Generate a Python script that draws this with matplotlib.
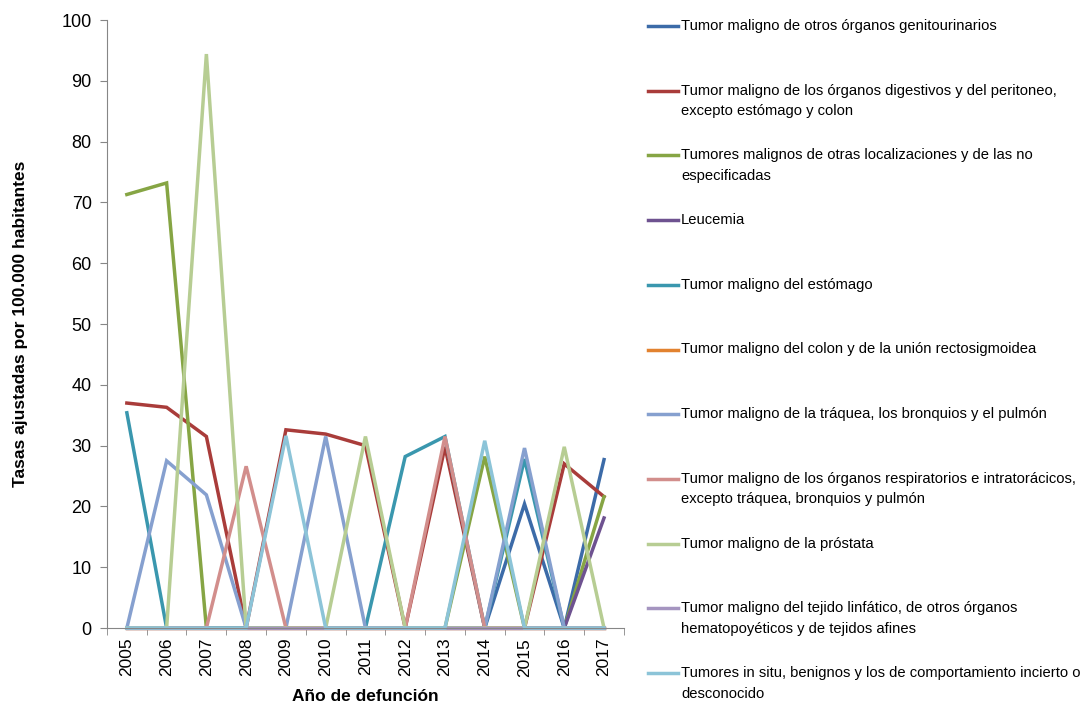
import matplotlib
matplotlib.use("Agg")
import matplotlib.pyplot as plt
from matplotlib.lines import Line2D

years = ["2005", "2006", "2007", "2008", "2009", "2010", "2011",
         "2012", "2013", "2014", "2015", "2016", "2017"]

labels = [
    "Tumor maligno de otros órganos genitourinarios",
    "Tumor maligno de los órganos digestivos y del peritoneo,\nexcepto estómago y colon",
    "Tumores malignos de otras localizaciones y de las no\nespecificadas",
    "Leucemia",
    "Tumor maligno del estómago",
    "Tumor maligno del colon y de la unión rectosigmoidea",
    "Tumor maligno de la tráquea, los bronquios y el pulmón",
    "Tumor maligno de los órganos respiratorios e intratorácicos,\nexcepto tráquea, bronquios y pulmón",
    "Tumor maligno de la próstata",
    "Tumor maligno del tejido linfático, de otros órganos\nhematopoyéticos y de tejidos afines",
    "Tumores in situ, benignos y los de comportamiento incierto o\ndesconocido",
]

genitourinarios = [0, 0, 0, 0, 0, 0, 0, 0, 0, 0, 20.4, 0, 27.7]
digestivos = [37.0, 36.3, 31.5, 0, 32.6, 31.9, 30.0, 0, 29.8, 0, 0, 27.0, 21.6]
otras_loc = [71.3, 73.2, 0, 0, 0, 0, 0, 0, 0, 28.2, 0, 0, 21.6]
leucemia = [0, 0, 0, 0, 0, 0, 0, 0, 0, 0, 0, 0, 18.1]
estomago = [35.4, 0, 0, 0, 0, 0, 0, 28.2, 31.5, 0, 27.8, 0, 0]
colon = [0, 0, 0, 0, 0, 0, 0, 0, 0, 0, 0, 0, 0]
traquea = [0, 27.5, 21.9, 0, 0, 31.5, 0, 0, 0, 0, 29.6, 0, 0]
respiratorios = [0, 0, 0, 26.6, 0, 0, 0, 0, 31.5, 0, 0, 0, 0]
prostata = [0, 0, 94.4, 0, 0, 0, 31.5, 0, 0, 0, 0, 29.8, 0]
linfatico = [0, 0, 0, 0, 0, 0, 0, 0, 0, 0, 0, 0, 0]
in_situ = [0, 0, 0, 0, 31.6, 0, 0, 0, 0, 30.8, 0, 0, 0]

series = [genitourinarios, digestivos, otras_loc, leucemia, estomago, colon,
          traquea, respiratorios, prostata, linfatico, in_situ]
colors = ["#3C6BA8", "#A93C3A", "#86A544", "#6E5290", "#3A97AE", "#E2822F",
          "#86A0CF", "#D28E8C", "#B7CD93", "#A595C0", "#8CC4D8"]

plt.rcParams["font.family"] = ["Liberation Sans", "DejaVu Sans"]

fig = plt.figure(figsize=(10.86, 7.07), dpi=100)
ax = fig.add_axes([0.0985, 0.1117, 0.476, 0.86])

x = list(range(len(years)))
for vals, c in zip(series, colors):
    ax.plot(x, vals, color=c, lw=2.5, solid_joinstyle="miter", clip_on=False)

ax.set_xlim(-0.5, len(years) - 0.5)
ax.set_ylim(0, 100)
ax.set_yticks(range(0, 101, 10))
ax.set_xticks(x)
ax.set_xticklabels(years, rotation=90, fontsize=12.5)
ax.set_xticks([i - 0.5 for i in range(len(years) + 1)], minor=True)
ax.tick_params(axis="x", which="major", length=0, pad=7)
ax.tick_params(axis="x", which="minor", length=5, color="#868686")
ax.tick_params(axis="y", length=5, color="#868686", labelsize=13, pad=6)

for side in ["top", "right"]:
    ax.spines[side].set_visible(False)
for side in ["left", "bottom"]:
    ax.spines[side].set_color("#868686")

ax.set_ylabel("Tasas ajustadas por 100.000 habitantes", fontsize=12.5,
              fontweight="bold", labelpad=24)
ax.set_xlabel("Año de defunción", fontsize=12.5, fontweight="bold",
              labelpad=9)

# legend drawn by hand to keep the fixed spacing between entries
W, H = 1086, 707
for i, (lab, c) in enumerate(zip(labels, colors)):
    y = 26 + i * 64.7
    fig.add_artist(Line2D([648 / W, 678 / W], [1 - y / H, 1 - y / H],
                          color=c, lw=2.5, transform=fig.transFigure))
    fig.text(681 / W, 1 - (y - 7) / H, lab, fontsize=10.6,
             va="top", ha="left", linespacing=1.6)

fig.savefig("out.png", dpi=100)
